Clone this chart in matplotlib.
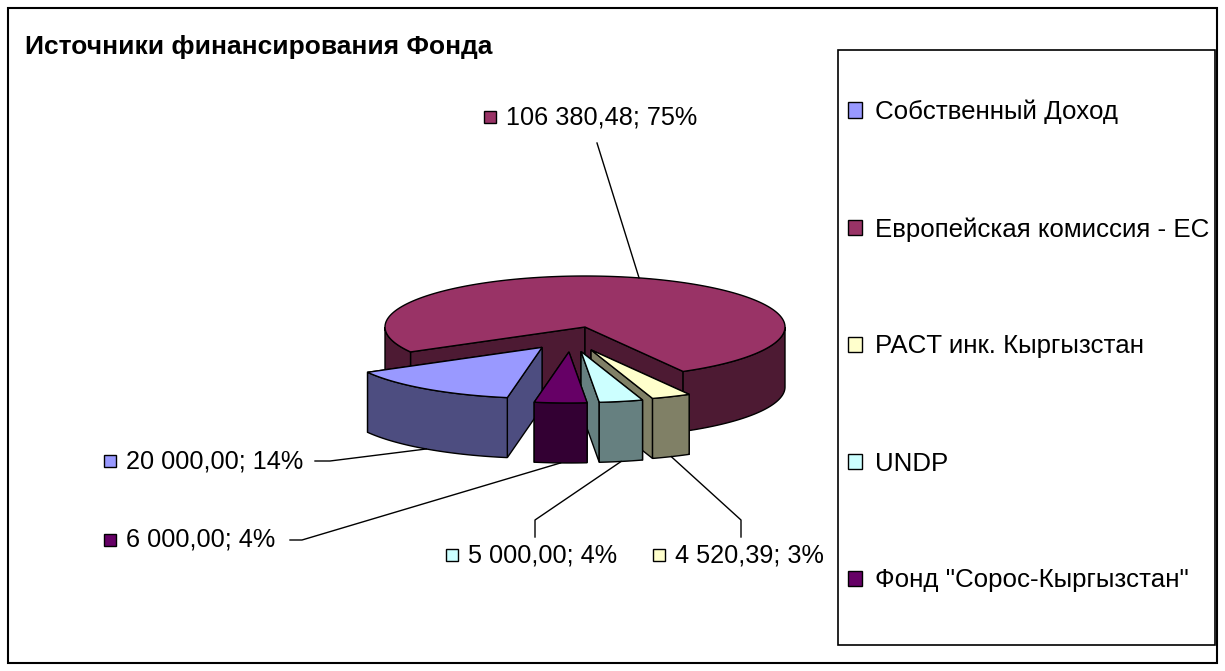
import numpy as np
import matplotlib
matplotlib.use('Agg')
import matplotlib.pyplot as plt
from matplotlib.patches import Polygon, Rectangle, Patch

plt.rcParams['font.family'] = ['Liberation Sans', 'DejaVu Sans']

TITLE = 'Источники финансирования Фонда'
sources = ['Собственный Доход', 'Европейская комиссия - ЕС', 'PACT инк. Кыргызстан',
           'UNDP', 'Фонд "Сорос-Кыргызстан"']
amounts = [20000.00, 106380.48, 4520.39, 5000.00, 6000.00]
top_colors = ['#9999FF', '#993366', '#FFFFCC', '#CCFFFF', '#660066']
side_colors = ['#4D4D80', '#4D1A33', '#808066', '#668080', '#330033']
explode = [0.25, 0.0, 0.25, 0.25, 0.25]

# pie geometry, axes works in pixels (y down)
CX, CY = 585, 327
RX, RY = 200, 51
DEPTH = 60
START = -100  # first slice starts here, slices run clockwise
EXP_SHIFT = -14  # exploded pieces sit a bit left in the original

# label layout: (square x, text y), leader route start points
label_pos = [(104, 461), (484, 117), (653, 555), (446, 555), (104, 540)]
leader_pts = [[(315, 461), (330, 461)],
              [(597, 143)],
              [(741, 537), (741, 520)],
              [(535, 537), (535, 520)],
              [(290, 540), (302, 540)]]
FS = 18.2
LEG_FS = 18.6


def fmt_amount(v):
    return f'{v:,.2f}'.replace(',', ' ').replace('.', ',')


def proj(c, t, r=1.0, z=0.0):
    t = np.radians(t)
    return np.column_stack([c[0] + RX * r * np.cos(t), c[1] - RY * r * np.sin(t) + z])


def front_parts(a, b):
    # parts of [a, b] (a < b) where the rim faces the viewer (sin < 0)
    out = []
    for k in range(-3, 3):
        lo, hi = max(a, -180 + 360 * k), min(b, 360 * k)
        if hi > lo:
            out.append((lo, hi))
    return out


vals = np.array(amounts)
frac = vals / vals.sum()
t_start = START - 360 * np.concatenate([[0], np.cumsum(frac)[:-1]])
t_end = t_start - 360 * frac
t_mid = (t_start + t_end) / 2

centers = []
for e, m in zip(explode, t_mid):
    r = np.radians(m)
    shift = EXP_SHIFT if e > 0 else 0
    centers.append((CX + e * RX * np.cos(r) + shift, CY - e * RX * 0.5 * np.sin(r)))

fig = plt.figure(figsize=(12.25, 6.71), dpi=100)
ax = fig.add_axes([0, 0, 1, 1])
ax.set_xlim(0, 1225)
ax.set_ylim(671, 0)
ax.axis('off')

# outer chart border
ax.add_patch(Rectangle((8, 8), 1209, 655, fill=False, ec='black', lw=1.5))

ax.text(25, 47, TITLE, fontsize=19, fontweight='bold', va='center', ha='left')

# draw slices back to front
order = np.argsort(-np.sin(np.radians(t_mid)))
for i in order:
    c = centers[i]
    a, b = t_end[i], t_start[i]
    top, side = top_colors[i], side_colors[i]
    cz = np.array([[c[0], c[1]], [c[0], c[1] + DEPTH]])

    # radial walls: hidden ones first
    walls = []
    for t, nrm in ((b, b + 90), (a, a - 90)):
        p = proj(c, [t])
        poly = np.vstack([cz[0], p, p + [0, DEPTH], cz[1]])
        walls.append((np.sin(np.radians(nrm)) < 0, poly))
    walls.sort(key=lambda w: w[0])
    for vis, poly in walls:
        ax.add_patch(Polygon(poly, closed=True, fc=side, ec='black', lw=1))

    # rim wall
    for lo, hi in front_parts(a, b):
        ts = np.linspace(lo, hi, 80)
        up = proj(c, ts)
        dn = proj(c, ts[::-1], z=DEPTH)
        ax.add_patch(Polygon(np.vstack([up, dn]), closed=True, fc=side, ec='black', lw=1))

    # top face
    ts = np.linspace(b, a, 200)
    ax.add_patch(Polygon(np.vstack([[c], proj(c, ts)]), closed=True, fc=top, ec='black', lw=1))

# data labels with leader lines
for i, v in enumerate(amounts):
    pct = round(100 * v / vals.sum())
    sx, sy = label_pos[i]
    ax.add_patch(Rectangle((sx, sy - 6), 12, 12, fc=top_colors[i], ec='black', lw=1))
    ax.text(sx + 22, sy, f'{fmt_amount(v)}; {pct}%', fontsize=FS, va='center', ha='left')
    c = centers[i]
    if explode[i] == 0:
        anchor = proj(c, [t_mid[i]])[0]
    else:
        anchor = proj(c, [t_mid[i]], z=DEPTH)[0]
    route = np.array(leader_pts[i] + [tuple(anchor)])
    ax.plot(route[:, 0], route[:, 1], color='black', lw=1)

# legend box drawn separately so its size matches the original
ax.add_patch(Rectangle((838, 50), 377, 595, fill=False, ec='black', lw=1.2))
handles = [Patch(fc=col, ec='black', lw=1, label=s) for col, s in zip(top_colors, sources)]
leg = ax.legend(handles=handles, loc='center left', bbox_to_anchor=(848 / 1225, 1 - 346 / 671),
                fontsize=LEG_FS, frameon=False,
                handlelength=0.55, handleheight=0.55, handletextpad=0.5,
                labelspacing=3.6, borderpad=0, borderaxespad=0)

fig.savefig('out.png', dpi=100)
